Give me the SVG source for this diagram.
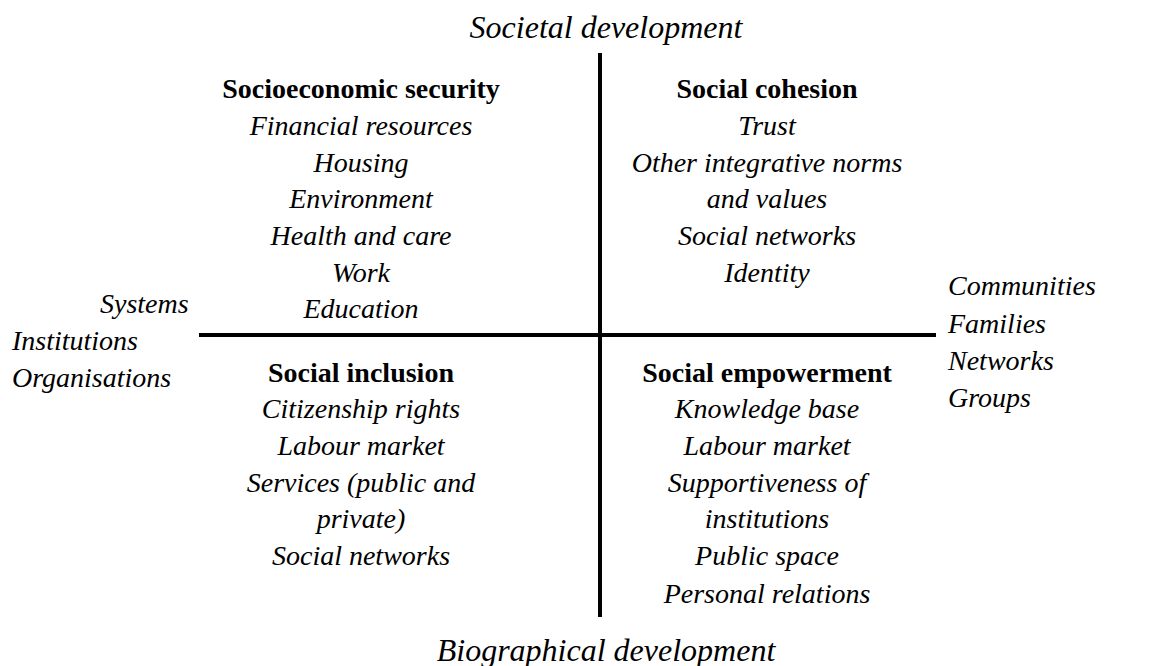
<svg xmlns="http://www.w3.org/2000/svg" width="1174" height="666" viewBox="0 0 1174 666">
  <style>
    text { font-family: "Liberation Serif", "Times New Roman", serif; font-size: 28px; fill: #000; }
    .it { font-style: italic; }
    .hd { font-weight: bold; }
    .c { text-anchor: middle; }
    .big { font-size: 32px; }
    .axis { stroke: #000; stroke-width: 4; fill: none; }
  </style>
  <rect width="1174" height="666" fill="#fff"/>

  <!-- quadrant axes -->
  <g id="connectors">
    <line class="axis" x1="600" y1="53" x2="600" y2="617"/>
    <line class="axis" x1="199" y1="335" x2="936" y2="335"/>
  </g>

  <!-- axis end labels -->
  <g id="axis-top">
    <text class="it c big" x="606" y="38">Societal development</text>
  </g>
  <g id="axis-bottom">
    <text class="it c big" x="606" y="661">Biographical development</text>
  </g>
  <g id="axis-left">
    <text class="it" x="100" y="313">Systems</text>
    <text class="it" x="12" y="350">Institutions</text>
    <text class="it" x="12" y="387">Organisations</text>
  </g>
  <g id="axis-right">
    <text class="it" x="948" y="295">Communities</text>
    <text class="it" x="948" y="333">Families</text>
    <text class="it" x="948" y="370">Networks</text>
    <text class="it" x="948" y="407">Groups</text>
  </g>

  <!-- quadrants -->
  <g id="socioeconomic-security">
    <text class="hd c" x="361" y="98">Socioeconomic security</text>
    <text class="it c" x="361" y="135">Financial resources</text>
    <text class="it c" x="361" y="172">Housing</text>
    <text class="it c" x="361" y="208">Environment</text>
    <text class="it c" x="361" y="245">Health and care</text>
    <text class="it c" x="361" y="282">Work</text>
    <text class="it c" x="361" y="318">Education</text>
  </g>
  <g id="social-cohesion">
    <text class="hd c" x="767" y="98">Social cohesion</text>
    <text class="it c" x="767" y="135">Trust</text>
    <text class="it c" x="767" y="172">Other integrative norms</text>
    <text class="it c" x="767" y="208">and values</text>
    <text class="it c" x="767" y="245">Social networks</text>
    <text class="it c" x="767" y="282">Identity</text>
  </g>
  <g id="social-inclusion">
    <text class="hd c" x="361" y="382">Social inclusion</text>
    <text class="it c" x="361" y="418">Citizenship rights</text>
    <text class="it c" x="361" y="455">Labour market</text>
    <text class="it c" x="361" y="492">Services (public and</text>
    <text class="it c" x="361" y="528">private)</text>
    <text class="it c" x="361" y="565">Social networks</text>
  </g>
  <g id="social-empowerment">
    <text class="hd c" x="767" y="382">Social empowerment</text>
    <text class="it c" x="767" y="418">Knowledge base</text>
    <text class="it c" x="767" y="455">Labour market</text>
    <text class="it c" x="767" y="492">Supportiveness of</text>
    <text class="it c" x="767" y="528">institutions</text>
    <text class="it c" x="767" y="565">Public space</text>
    <text class="it c" x="767" y="603">Personal relations</text>
  </g>
</svg>
